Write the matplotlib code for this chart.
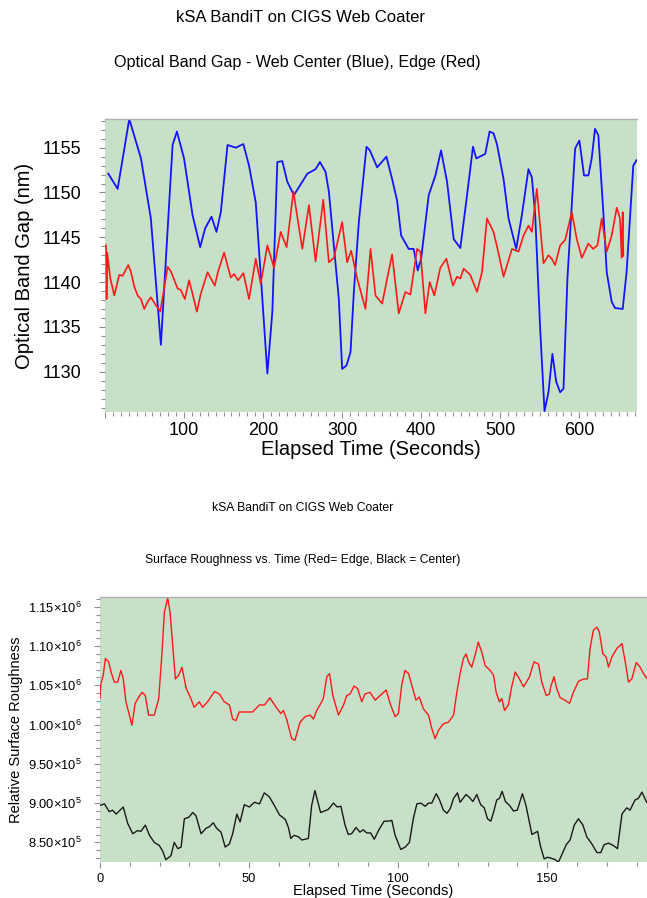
import numpy as np
import matplotlib
matplotlib.use("Agg")
import matplotlib.pyplot as plt
from matplotlib.ticker import MultipleLocator, FuncFormatter

plt.rcParams["font.family"] = ["Liberation Sans", "DejaVu Sans"]
plt.rcParams["mathtext.fontset"] = "custom"
plt.rcParams["mathtext.rm"] = "Liberation Sans"
plt.rcParams["mathtext.it"] = "Liberation Sans:italic"

# ---- top chart: optical band gap (nm) vs elapsed time (s) ----
center_t = [4.2, 16, 30.7, 45.5, 58, 70.7, 85.5, 91, 100, 110.7, 120.4, 126.7, 134.7, 141,
            146.5, 155, 165.4, 175, 182.2, 190.7, 197, 205.4, 211.7, 218, 224.3, 230.6, 239,
            256, 266.4, 271.9, 279, 283.2, 289.5, 295.8, 300, 305.6, 310.6, 314.8, 321.1,
            330.8, 335, 344.3, 356, 363.2, 369.5, 374.6, 384.2, 390.5, 395.6, 399.9, 409.5,
            418, 425.1, 432.7, 441.1, 449.5, 458, 465.5, 469.7, 481, 486.5, 491.5, 495.8,
            504.2, 510.5, 520.2, 527.4, 535.7, 540, 544.2, 550.5, 556, 561, 566, 570.7,
            575.8, 580, 585, 594.7, 600.1, 606, 611.5, 615.7, 619.9, 624.1, 630.4, 634.7,
            641, 645.2, 654.9, 659.8, 668.3, 672.4]
center_gap = [1152.1, 1150.4, 1158.2, 1153.8, 1147.1, 1133.0, 1155.3, 1156.8, 1153.8, 1147.5,
              1143.9, 1146.0, 1147.3, 1145.6, 1147.8, 1155.3, 1155.0, 1155.4, 1153.0, 1148.9,
              1140.8, 1129.8, 1136.7, 1153.4, 1153.5, 1151.2, 1149.7, 1152.1, 1152.6, 1153.4,
              1152.3, 1150.1, 1144.1, 1138.1, 1130.3, 1130.7, 1132.2, 1138.9, 1146.7, 1155.1,
              1154.7, 1152.8, 1154.0, 1151.5, 1149.1, 1145.2, 1143.7, 1143.7, 1141.3, 1142.6,
              1149.7, 1151.9, 1154.7, 1151.2, 1144.8, 1143.8, 1149.7, 1155.1, 1153.8, 1154.3,
              1156.8, 1156.6, 1155.4, 1151.5, 1147.1, 1143.7, 1147.5, 1152.6, 1151.7, 1147.5,
              1134.8, 1125.6, 1127.7, 1132.0, 1128.9, 1127.7, 1128.1, 1140.4, 1154.9, 1155.8,
              1151.9, 1151.9, 1153.8, 1157.1, 1156.4, 1147.8, 1141.1, 1137.8, 1137.1, 1137.0,
              1141.1, 1153.0, 1153.6]

edge_t = [1.3, 2, 2.8, 6.7, 11.8, 18, 22.3, 29.4, 32.6, 37, 41.3, 45.5, 49.6, 53.9, 58, 63.1,
          69.8, 74.1, 79.2, 83.3, 91.8, 96, 101, 106.4, 110.7, 116.2, 121.2, 129.7, 138.9,
          143.1, 150.7, 159.1, 163.3, 168.4, 175.1, 182.2, 190.7, 197, 205.4, 213.8, 222.2,
          229.8, 238.3, 249.6, 258, 266.4, 276.1, 283.2, 289.5, 300, 306.3, 311.4, 319, 329.5,
          335.9, 342.2, 350.6, 363.2, 371.6, 380, 386.3, 394.8, 399, 405.3, 410.7, 416.7,
          424.2, 431.8, 440.2, 445.2, 449.5, 453.7, 462.1, 470.6, 476.9, 483.2, 491.5, 496.6,
          504.2, 514.8, 523.1, 529.5, 535.7, 540, 546.3, 554.7, 561, 565.2, 569.4, 575.8,
          582.1, 590.5, 596.8, 603.2, 611.5, 617.6, 622.9, 628.4, 634.7, 641, 647.4, 651.5,
          653.6, 654.9, 655.7]
edge_gap = [1144.1, 1138.1, 1143.3, 1140.4, 1138.5, 1140.8, 1140.7, 1141.9, 1141.2, 1139.5,
            1138.5, 1138.1, 1137.0, 1137.8, 1138.3, 1137.6, 1136.7, 1138.9, 1141.7, 1141.2,
            1139.3, 1139.1, 1138.1, 1140.2, 1138.7, 1136.7, 1138.7, 1141.1, 1139.6, 1141.2,
            1143.3, 1140.5, 1140.9, 1140.2, 1141.0, 1138.1, 1142.6, 1139.8, 1144.1, 1141.6,
            1145.6, 1143.9, 1150.1, 1143.7, 1148.6, 1142.3, 1149.2, 1142.2, 1142.7, 1146.7,
            1142.2, 1143.5, 1140.4, 1137.0, 1143.7, 1138.5, 1137.6, 1143.1, 1136.5, 1138.9,
            1138.6, 1143.7, 1143.4, 1136.5, 1140.0, 1138.5, 1141.6, 1142.6, 1139.6, 1140.6,
            1140.4, 1141.5, 1140.8, 1138.9, 1141.1, 1147.1, 1145.6, 1143.7, 1140.6, 1143.7,
            1143.4, 1145.2, 1146.3, 1145.6, 1150.4, 1142.1, 1143.0, 1142.6, 1141.9, 1144.1,
            1144.7, 1147.8, 1144.8, 1142.7, 1144.3, 1143.7, 1144.1, 1147.1, 1143.4, 1145.2,
            1148.3, 1147.1, 1142.7, 1147.8, 1142.9]

# ---- bottom chart: relative surface roughness (x1e5) vs elapsed time (s) ----
rough_edge_t = [0, 0.3, 1.1, 1.8, 2.9, 3.7, 4.8, 5.9, 7.0, 7.8, 8.7, 9.6, 10.7, 11.8, 13.0,
                14.1, 15.2, 16.3, 18.2, 19.7, 20.8, 21.6, 22.7, 23.5, 24.4, 25.3, 26.4, 27.5,
                28.9, 30.5, 31.6, 33.3, 34.4, 36.1, 38.4, 40.0, 41.7, 43.4, 44.5, 45.6, 46.7,
                49.0, 51.2, 53.5, 55.2, 57.0, 59.1, 60.7, 61.5, 62.6, 64.3, 65.4, 67.1, 68.8,
                70.5, 71.6, 72.7, 73.8, 74.9, 76.1, 77.0, 78.1, 80.0, 81.7, 82.8, 83.9, 85.2,
                86.4, 87.8, 88.9, 90.6, 92.3, 94.0, 96.0, 97.3, 99.0, 100.1, 101.2, 102.3,
                103.5, 104.9, 106.0, 107.1, 108.5, 110.2, 111.3, 112.4, 113.6, 115.2, 116.9,
                118.6, 119.7, 120.8, 121.9, 122.8, 123.6, 124.7, 125.8, 126.9, 128.1, 129.2,
                130.9, 132.0, 132.9, 134.0, 134.8, 135.7, 137.0, 138.1, 139.3, 140.7, 142.1,
                144.1, 145.6, 147.1, 148.2, 149.7, 150.8, 151.2, 152.3, 153.2, 154.4, 156.0,
                157.5, 158.8, 160.5, 162.2, 163.5, 164.4, 165.5, 166.7, 167.5, 168.7, 169.8,
                170.6, 171.7, 173.4, 175.1, 176.2, 177.3, 178.4, 179.9, 181.2, 182.3, 183.4]
rough_edge = [10.33, 10.52, 10.63, 10.84, 10.80, 10.67, 10.54, 10.54, 10.69, 10.58, 10.29,
              10.16, 9.99, 10.27, 10.35, 10.41, 10.37, 10.12, 10.12, 10.33, 10.92, 11.43,
              11.61, 11.43, 11.01, 10.58, 10.63, 10.73, 10.46, 10.33, 10.22, 10.29, 10.22,
              10.29, 10.42, 10.39, 10.29, 10.25, 10.07, 10.05, 10.16, 10.16, 10.16, 10.25,
              10.25, 10.34, 10.22, 10.14, 10.18, 10.07, 9.82, 9.80, 10.03, 10.10, 10.12,
              10.07, 10.18, 10.25, 10.33, 10.61, 10.65, 10.37, 10.12, 10.25, 10.37, 10.39,
              10.49, 10.46, 10.29, 10.39, 10.41, 10.31, 10.37, 10.44, 10.27, 10.10, 10.14,
              10.50, 10.69, 10.65, 10.46, 10.31, 10.35, 10.20, 10.12, 9.95, 9.82, 9.93, 10.01,
              10.03, 10.12, 10.41, 10.65, 10.84, 10.90, 10.80, 10.73, 10.88, 11.05, 10.92,
              10.75, 10.69, 10.63, 10.41, 10.29, 10.33, 10.18, 10.25, 10.48, 10.67, 10.58,
              10.48, 10.61, 10.80, 10.77, 10.54, 10.37, 10.39, 10.48, 10.61, 10.46, 10.34,
              10.31, 10.27, 10.41, 10.55, 10.58, 10.58, 10.97, 11.20, 11.24, 11.18, 10.90,
              10.86, 10.73, 10.86, 10.97, 11.03, 10.80, 10.54, 10.58, 10.79, 10.73, 10.65,
              10.59]

rough_center_t = [0, 1.5, 3.1, 4.2, 5.4, 7.8, 9.3, 11.0, 12.6, 13.7, 15.2, 16.6, 18.2, 19.9,
                  21.0, 22.1, 23.8, 24.9, 26.1, 27.2, 28.3, 29.8, 31.1, 32.2, 33.9, 35.6,
                  36.7, 38.0, 39.1, 40.6, 42.0, 43.4, 44.5, 45.9, 47.0, 48.4, 50.1, 51.8,
                  53.5, 55.1, 56.8, 58.5, 60.2, 62.2, 63.2, 64.0, 65.1, 66.6, 67.7, 69.9,
                  71.0, 72.1, 74.0, 76.6, 78.3, 79.6, 80.8, 82.2, 83.3, 84.4, 85.9, 87.2,
                  88.3, 89.5, 90.8, 92.0, 93.7, 95.3, 96.8, 97.9, 99.0, 100.9, 102.4, 103.8,
                  105.1, 106.3, 107.6, 109.1, 110.2, 111.3, 112.8, 113.9, 115.2, 116.4,
                  117.5, 118.6, 119.9, 120.8, 122.8, 124.0, 125.1, 126.4, 127.7, 128.9,
                  130.0, 131.1, 132.0, 133.1, 134.0, 134.9, 136.0, 137.4, 138.7, 140.0,
                  141.7, 142.9, 144.9, 146.8, 147.7, 149.0, 150.1, 151.2, 152.7, 153.8,
                  154.9, 156.4, 157.7, 159.1, 160.5, 162.0, 163.3, 165.0, 166.7, 168.0,
                  169.1, 170.6, 172.2, 173.6, 175.1, 176.7, 177.8, 179.5, 180.6, 181.8, 183.4]
rough_center = [8.97, 8.99, 8.89, 8.91, 8.86, 8.95, 8.74, 8.61, 8.65, 8.64, 8.72, 8.59, 8.50,
                8.46, 8.39, 8.28, 8.33, 8.50, 8.42, 8.44, 8.80, 8.82, 8.88, 8.84, 8.61, 8.68,
                8.70, 8.75, 8.68, 8.63, 8.44, 8.48, 8.61, 8.86, 8.76, 8.98, 8.95, 9.01, 8.99,
                9.13, 9.08, 8.97, 8.85, 8.79, 8.69, 8.55, 8.59, 8.57, 8.53, 8.55, 8.97, 9.16,
                8.88, 8.92, 9.00, 8.95, 8.96, 8.72, 8.60, 8.61, 8.69, 8.63, 8.66, 8.62, 8.62,
                8.54, 8.67, 8.77, 8.77, 8.78, 8.59, 8.41, 8.44, 8.50, 8.80, 8.99, 9.00, 8.96,
                9.00, 9.00, 9.12, 9.04, 8.91, 8.87, 8.93, 9.06, 9.13, 9.01, 9.11, 9.07, 9.02,
                9.11, 8.98, 8.94, 8.80, 8.77, 8.88, 9.04, 9.06, 9.15, 9.02, 8.97, 8.90, 8.91,
                9.12, 8.97, 8.60, 8.64, 8.46, 8.29, 8.31, 8.30, 8.28, 8.25, 8.34, 8.47, 8.53,
                8.72, 8.80, 8.72, 8.57, 8.48, 8.37, 8.37, 8.47, 8.49, 8.46, 8.42, 8.86, 8.94,
                8.91, 9.04, 9.06, 9.14, 9.01]

BG = "#c8dfc8"
TICK_COL = "#909090"

fig = plt.figure(figsize=(6.47, 8.98), dpi=100)
W, H = 647, 898


def style_axes(ax):
    ax.set_facecolor(BG)
    for s in ("left", "right", "bottom"):
        ax.spines[s].set_visible(False)
    ax.spines["top"].set_color("#b0b0b0")
    ax.spines["top"].set_linewidth(1.0)
    ax.tick_params(which="both", direction="out", color=TICK_COL, width=0.8)
    ax.tick_params(which="major", length=4)
    ax.tick_params(which="minor", length=3)


# top panel
ax1 = fig.add_axes([105 / W, 1 - 412 / H, 532 / W, 293 / H])
style_axes(ax1)
ax1.plot(np.array(center_t), np.array(center_gap), color="#1414ff", lw=1.3)
ax1.plot(np.array(edge_t), np.array(edge_gap), color="#ff1a1a", lw=1.2)
ax1.set_xlim(0, 673)
ax1.set_ylim(1125.5, 1158.2)
ax1.xaxis.set_major_locator(MultipleLocator(100))
ax1.xaxis.set_minor_locator(MultipleLocator(10))
ax1.yaxis.set_major_locator(MultipleLocator(5))
ax1.yaxis.set_minor_locator(MultipleLocator(1))
ax1.xaxis.set_major_formatter(FuncFormatter(lambda v, p: "" if v == 0 else f"{v:.0f}"))
ax1.tick_params(axis="both", labelsize=13)
ax1.tick_params(axis="y", pad=13)
ax1.tick_params(axis="x", pad=3)
ax1.set_xlabel("Elapsed Time (Seconds)", fontsize=14.5, labelpad=1)
ax1.set_ylabel("Optical Band Gap (nm)", fontsize=14.5, labelpad=6)

fig.text(300 / W, 1 - 17 / H, "kSA BandiT on CIGS Web Coater", fontsize=12,
         ha="center", va="center")
fig.text(297 / W, 1 - 62 / H, "Optical Band Gap - Web Center (Blue), Edge (Red)",
         fontsize=11.6, ha="center", va="center")

# bottom panel
ax2 = fig.add_axes([100 / W, 1 - 862 / H, 547 / W, 265 / H])
style_axes(ax2)
ax2.plot(np.array(rough_edge_t), np.array(rough_edge) * 1e5, color="#ff1a1a", lw=1.0)
ax2.plot(np.array(rough_center_t), np.array(rough_center) * 1e5, color="#1a1a1a", lw=1.0)
ax2.set_xlim(0, 183.5)
ax2.set_ylim(8.25e5, 1.1624e6)
ax2.xaxis.set_major_locator(MultipleLocator(50))
ax2.xaxis.set_minor_locator(MultipleLocator(10))
ax2.yaxis.set_major_locator(MultipleLocator(5e4))
ax2.yaxis.set_minor_locator(MultipleLocator(1e4))


def sci_label(v, pos):
    e = int(np.floor(np.log10(v)))
    return r"$\mathregular{%.2f{\times}10^{%d}}$" % (v / 10 ** e, e)


ax2.yaxis.set_major_formatter(FuncFormatter(sci_label))
ax2.tick_params(axis="both", labelsize=9.3)
ax2.tick_params(axis="y", pad=9)
ax2.tick_params(axis="x", pad=4)
ax2.set_xlabel("Elapsed Time (Seconds)", fontsize=10.5, labelpad=-1)
ax2.set_ylabel("Relative Surface Roughness", fontsize=10.5, labelpad=4)

fig.text(303 / W, 1 - 508 / H, "kSA BandiT on CIGS Web Coater", fontsize=8.7,
         ha="center", va="center")
fig.text(303 / W, 1 - 560 / H, "Surface Roughness vs. Time (Red= Edge, Black = Center)",
         fontsize=8.7, ha="center", va="center")

fig.savefig("out.png", dpi=100)
